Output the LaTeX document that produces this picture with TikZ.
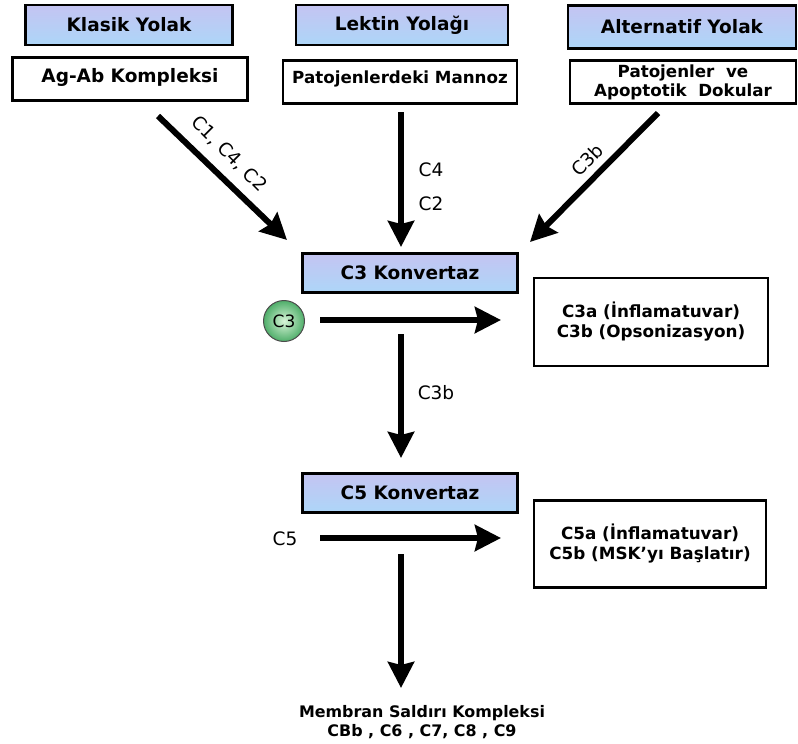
\documentclass[tikz,border=0pt]{standalone}
\usepackage{fontspec}
\setmainfont{DejaVu Sans}
\usetikzlibrary{arrows.meta,shadings}
\definecolor{hdrtop}{HTML}{C4C4F2}
\definecolor{hdrbot}{HTML}{ADD6F8}
\definecolor{ballin}{HTML}{D8F5D8}
\definecolor{ballout}{HTML}{4FAE6A}
\begin{document}
\begin{tikzpicture}[x=1pt,y=-1pt,
  hdr/.style={draw=black, line width=2.8pt, top color=hdrtop, bottom color=hdrbot,
    font=\bfseries\fontsize{18.5}{21}\selectfont, inner sep=0pt},
  box/.style={draw=black, line width=2.8pt, fill=white, align=center,
    font=\bfseries\fontsize{16.8}{20}\selectfont, inner sep=0pt},
  arr/.style={line width=6pt, -{Stealth[length=26pt,width=26pt,inset=3pt]}},
  lbl/.style={font=\fontsize{18.5}{21}\selectfont, inner sep=0pt}]
\useasboundingbox (0,0) rectangle (798,744);
% headers
\node[hdr, minimum width=207, minimum height=40] (klasik) at (129,25) {Klasik Yolak};
\node[hdr, minimum width=212, minimum height=40] (lektin) at (402,25) {Lektin Yolağı};
\node[hdr, minimum width=228, minimum height=43] (alt) at (682,27) {Alternatif Yolak};
% source boxes
\node[box, minimum width=235, minimum height=43, text depth=8pt, font=\bfseries\fontsize{18.5}{21}\selectfont] (agab) at (130,79) {Ag-Ab Kompleksi};
\node[box, minimum width=234, minimum height=43, text depth=10pt, font=\bfseries\fontsize{16.7}{19}\selectfont] (mannoz) at (400,82) {Patojenlerdeki Mannoz};
\node[box, minimum width=226, minimum height=43, font=\bfseries\fontsize{16.7}{19}\selectfont] (apop) at (683,82) {Patojenler\ \ ve\\Apoptotik\ \ Dokular};
% C3 convertase
\node[hdr, minimum width=215, minimum height=39] (c3k) at (410,273) {C3 Konvertaz};
\node[box, minimum width=234, minimum height=88] (c3prod) at (651,322) {C3a (İnflamatuvar)\\C3b (Opsonizasyon)};
\node[circle, draw=black!70, line width=1pt, inner color=ballin, outer color=ballout,
  minimum size=41, inner sep=0pt, font=\fontsize{17}{18}\selectfont] (c3) at (284,321) {C3};
% C5 convertase
\node[hdr, minimum width=215, minimum height=39] (c5k) at (410,493) {C5 Konvertaz};
\node[box, minimum width=232, minimum height=87] (c5prod) at (650,544) {C5a (İnflamatuvar)\\C5b (MSK’yı Başlatır)};
\node[lbl] (c5) at (285,539) {C5};
% membrane attack complex
\node[align=center, font=\bfseries\fontsize{15.9}{19}\selectfont, inner sep=0pt] (msk) at (422,722) {Membran Saldırı Kompleksi\\CBb , C6 , C7, C8 , C9};
% arrow endpoints
\coordinate (a1s) at (158,116); \coordinate (a1e) at (287,240);
\coordinate (a2s) at (401,112); \coordinate (a2e) at (401,247);
\coordinate (a3s) at (658,113); \coordinate (a3e) at (530,242);
\coordinate (h3s) at (320,320); \coordinate (h3e) at (501,320);
\coordinate (v3s) at (401,334); \coordinate (v3e) at (401,458);
\coordinate (h5s) at (320,538); \coordinate (h5e) at (501,538);
\coordinate (v5s) at (401,554); \coordinate (v5e) at (401,688);
% arrows
\draw[arr] (a1s) -- (a1e);
\draw[arr] (a2s) -- (a2e);
\draw[arr] (a3s) -- (a3e);
\draw[arr] (h3s) -- (h3e);
\draw[arr] (v3s) -- (v3e);
\draw[arr] (h5s) -- (h5e);
\draw[arr] (v5s) -- (v5e);
% labels
\node[lbl, rotate=-45] (l1) at (229,154) {C1, C4, C2};
\node[lbl] (l2a) at (431,170) {C4};
\node[lbl] (l2b) at (431,204) {C2};
\node[lbl, rotate=45] (l3) at (587,160) {C3b};
\node[lbl] (l4) at (436,393) {C3b};
\end{tikzpicture}
\end{document}
